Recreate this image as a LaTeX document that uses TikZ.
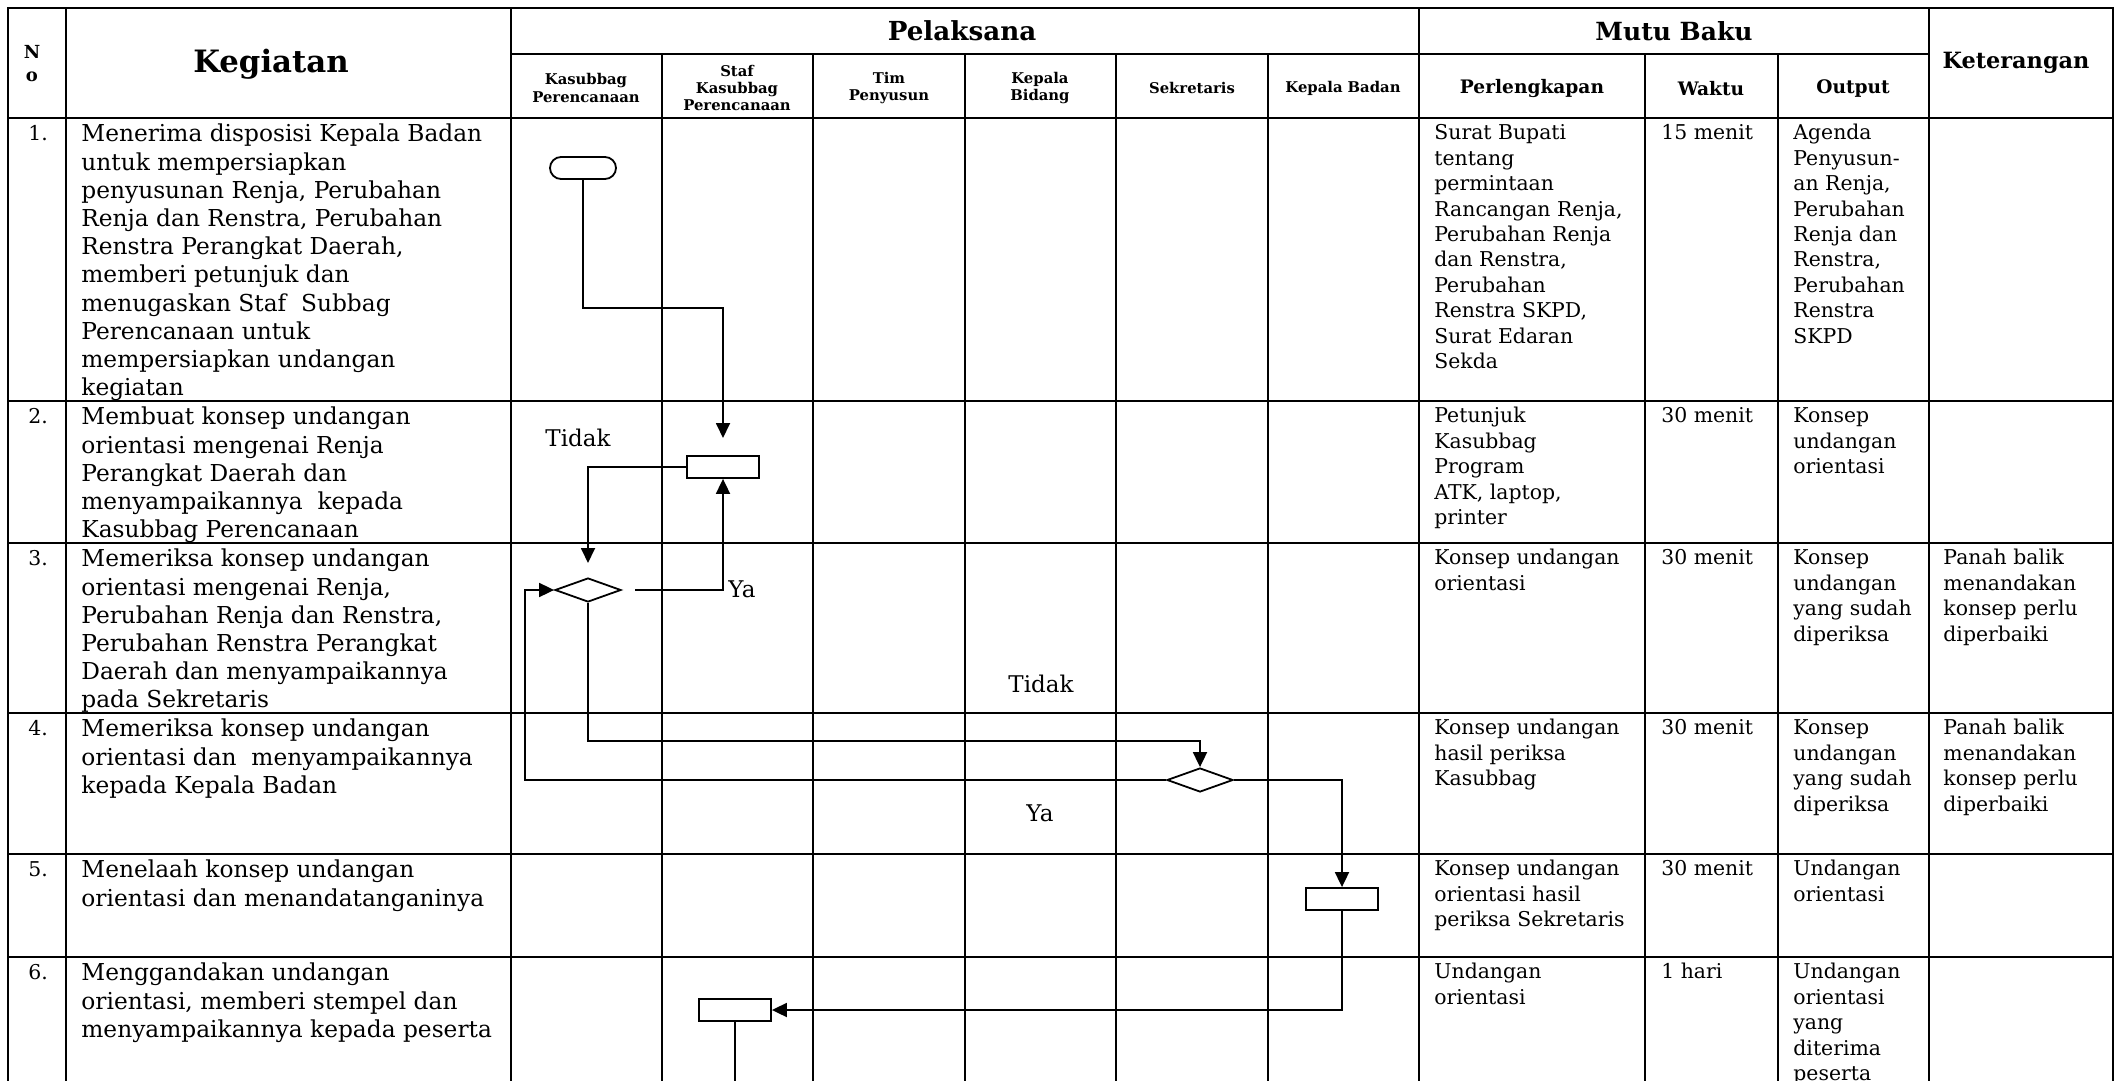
\documentclass[tikz,border=0pt]{standalone}
\usepackage{fontspec}
\setmainfont{DejaVu Serif}
\usetikzlibrary{shapes.geometric,arrows.meta}
\newcommand\fbody{\fontsize{11.65}{14.1}\selectfont}
\newcommand\fside{\fontsize{10.2}{12.7}\selectfont}
\newcommand\fsub{\bfseries\fontsize{7.4}{8.7}\selectfont}
\newcommand\fmid{\bfseries\fontsize{9.3}{11}\selectfont}
\newcommand\fno{\bfseries\fontsize{9}{11.5}\selectfont}
\begin{document}
\begin{tikzpicture}[x=0.5pt,y=-0.5pt,
  tline/.style={line width=1.2pt,line cap=rect},
  fline/.style={line width=0.9pt},
  flow/.style={line width=0.9pt,-{Triangle[length=7.5pt,width=7pt]}},
  termbox/.style={draw,line width=0.9pt,rounded corners=5.5pt,minimum width=33pt,minimum height=11pt,inner sep=0},
  procbox/.style={draw,line width=0.9pt,minimum width=36pt,minimum height=11pt,inner sep=0},
  decbox/.style={draw,diamond,line width=0.9pt,minimum width=33pt,minimum height=12pt,inner sep=0},
  kegtext/.style={anchor=north west,inner sep=0,align=left,font=\fbody},
  sidetext/.style={anchor=north west,inner sep=0,align=left,font=\fside},
  numtext/.style={anchor=base west,inner sep=0,font=\fside},
  subhead/.style={inner sep=0,align=center,font=\fsub},
  midhead/.style={inner sep=0,align=center,font=\fmid},
  lbl/.style={inner sep=0,font=\fontsize{11.5}{14}\selectfont}
]
\useasboundingbox (0,0) rectangle (2116,1081);
% ---------- table grid ----------
\draw[tline] (8,8) -- (2113,8);
\draw[tline] (511,54) -- (1929,54);
\foreach \yy in {118,401,543,713,854,957} \draw[tline] (8,\yy) -- (2113,\yy);
\foreach \xx in {8,66,511,1419,1929,2113} \draw[tline] (\xx,8) -- (\xx,1085);
\foreach \xx in {662,813,965,1116,1268,1645,1778} \draw[tline] (\xx,54) -- (\xx,1085);
% ---------- headers ----------
\node[inner sep=0,align=center,font=\fno] (hno) at (32,64) {N\\o};
\node[inner sep=0,font=\bfseries\fontsize{15.4}{18}\selectfont] (hkeg) at (271,64) {Kegiatan};
\node[inner sep=0,font=\bfseries\fontsize{13.1}{15}\selectfont] (hpel) at (962,31) {Pelaksana};
\node[inner sep=0,font=\bfseries\fontsize{12.5}{15}\selectfont] (hmutu) at (1674,31) {Mutu Baku};
\node[inner sep=0,font=\bfseries\fontsize{11.2}{13}\selectfont] (hket) at (2016,63) {Keterangan};
\node[subhead] (hs1) at (586,88) {Kasubbag\\Perencanaan};
\node[subhead] (hs2) at (737,88) {Staf\\Kasubbag\\Perencanaan};
\node[subhead] (hs3) at (889,88) {Tim\\Penyusun};
\node[subhead] (hs4) at (1040,88) {Kepala\\Bidang};
\node[subhead] (hs5) at (1192,88) {Sekretaris};
\node[subhead] (hs6) at (1343,88) {Kepala Badan};
\node[midhead] (hm1) at (1532,89) {Perlengkapan};
\node[midhead] (hm2) at (1711,89) {Waktu};
\node[midhead] (hm3) at (1853,89) {Output};
% ---------- numbers ----------
\node[numtext] (n1) at (28,140.5) {1.};
\node[numtext] (n2) at (28,423.5) {2.};
\node[numtext] (n3) at (28,565.5) {3.};
\node[numtext] (n4) at (28,735.5) {4.};
\node[numtext] (n5) at (28,876.5) {5.};
\node[numtext] (n6) at (28,979.5) {6.};
% ---------- kegiatan ----------
\node[kegtext] (k1) at (81,121.8) {\strut Menerima disposisi Kepala Badan\\untuk mempersiapkan\\penyusunan Renja, Perubahan\\Renja dan Renstra, Perubahan\\Renstra Perangkat Daerah,\\memberi petunjuk dan\\menugaskan Staf\ \ Subbag\\Perencanaan untuk\\mempersiapkan undangan\\kegiatan};
\node[kegtext] (k2) at (81,404.8) {\strut Membuat konsep undangan\\orientasi mengenai Renja\\Perangkat Daerah dan\\menyampaikannya\ \ kepada\\Kasubbag Perencanaan};
\node[kegtext] (k3) at (81,546.8) {\strut Memeriksa konsep undangan\\orientasi mengenai Renja,\\Perubahan Renja dan Renstra,\\Perubahan Renstra Perangkat\\Daerah dan menyampaikannya\\pada Sekretaris};
\node[kegtext] (k4) at (81,716.8) {\strut Memeriksa konsep undangan\\orientasi dan\ \ menyampaikannya\\kepada Kepala Badan};
\node[kegtext] (k5) at (81,857.8) {\strut Menelaah konsep undangan\\orientasi dan menandatanganinya};
\node[kegtext] (k6) at (81,960.8) {\strut Menggandakan undangan\\orientasi, memberi stempel dan\\menyampaikannya kepada peserta};
% ---------- perlengkapan ----------
\node[sidetext] (p1) at (1434,121.7) {\strut Surat Bupati\\tentang\\permintaan\\Rancangan Renja,\\Perubahan Renja\\dan Renstra,\\Perubahan\\Renstra SKPD,\\Surat Edaran\\Sekda};
\node[sidetext] (p2) at (1434,404.7) {\strut Petunjuk\\Kasubbag\\Program\\ATK, laptop,\\printer};
\node[sidetext] (p3) at (1434,546.7) {\strut Konsep undangan\\orientasi};
\node[sidetext] (p4) at (1434,716.7) {\strut Konsep undangan\\hasil periksa\\Kasubbag};
\node[sidetext] (p5) at (1434,857.7) {\strut Konsep undangan\\orientasi hasil\\periksa Sekretaris};
\node[sidetext] (p6) at (1434,960.7) {\strut Undangan\\orientasi};
% ---------- waktu ----------
\node[sidetext] (w1) at (1661,121.7) {\strut 15 menit};
\node[sidetext] (w2) at (1661,404.7) {\strut 30 menit};
\node[sidetext] (w3) at (1661,546.7) {\strut 30 menit};
\node[sidetext] (w4) at (1661,716.7) {\strut 30 menit};
\node[sidetext] (w5) at (1661,857.7) {\strut 30 menit};
\node[sidetext] (w6) at (1661,960.7) {\strut 1 hari};
% ---------- output ----------
\node[sidetext] (o1) at (1793,121.7) {\strut Agenda\\Penyusun-\\an Renja,\\Perubahan\\Renja dan\\Renstra,\\Perubahan\\Renstra\\SKPD};
\node[sidetext] (o2) at (1793,404.7) {\strut Konsep\\undangan\\orientasi};
\node[sidetext] (o3) at (1793,546.7) {\strut Konsep\\undangan\\yang sudah\\diperiksa};
\node[sidetext] (o4) at (1793,716.7) {\strut Konsep\\undangan\\yang sudah\\diperiksa};
\node[sidetext] (o5) at (1793,857.7) {\strut Undangan\\orientasi};
\node[sidetext] (o6) at (1793,960.7) {\strut Undangan\\orientasi\\yang\\diterima\\peserta};
% ---------- keterangan ----------
\node[sidetext] (e3) at (1943,546.7) {\strut Panah balik\\menandakan\\konsep perlu\\diperbaiki};
\node[sidetext] (e4) at (1943,716.7) {\strut Panah balik\\menandakan\\konsep perlu\\diperbaiki};
% ---------- flowchart ----------
\node[termbox] (term) at (583,168) {};
\node[procbox] (box2) at (723,467) {};
\node[decbox] (dia1) at (588,590) {};
\node[decbox] (dia2) at (1200,780) {};
\node[procbox] (box3) at (1342,899) {};
\node[procbox] (box4) at (735,1010) {};
\coordinate (q1) at (723,308);
\coordinate (q2) at (723,438);
\coordinate (q3) at (588,563);
\coordinate (q4) at (635,590);
\coordinate (q5) at (525,590);
\coordinate (q6) at (1200,741);
\coordinate (q7) at (735,1090);
\draw[flow] (term.south) |- (q1) -- (q2);
\draw[flow] (box2.west) -| (q3);
\draw[flow] (q4) -| (box2.south);
\draw[flow] (dia2.west) -| (q5) -- (dia1.west);
\draw[flow] (dia1.south) |- (q6) -- (dia2.north);
\draw[flow] (dia2.east) -| (box3.north);
\draw[flow] (box3.south) |- (box4.east);
\draw[fline] (box4.south) -- (q7);
% ---------- labels ----------
\node[lbl] (t1) at (578,438) {Tidak};
\node[lbl,anchor=west] (y1) at (728,589) {Ya};
\node[lbl] (t2) at (1041,684) {Tidak};
\node[lbl] (y2) at (1040,813) {Ya};
\end{tikzpicture}
\end{document}
